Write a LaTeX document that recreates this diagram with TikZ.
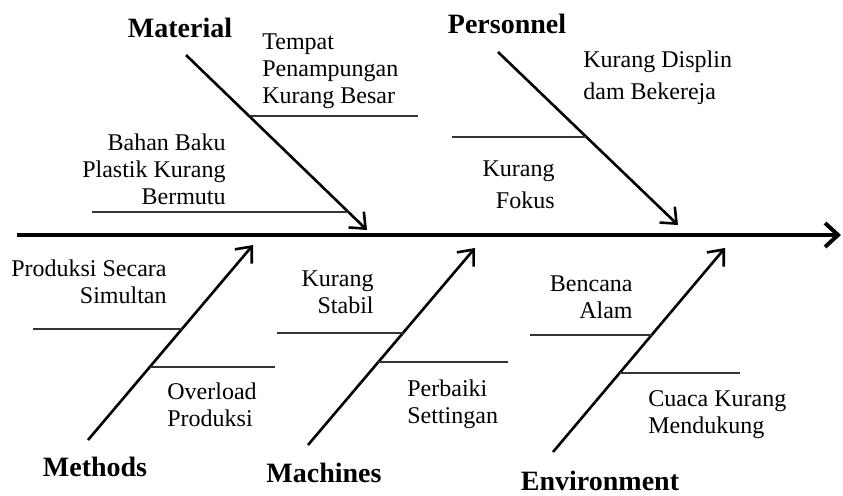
\documentclass[tikz,border=0pt]{standalone}
\usepackage{fontspec}
\setmainfont{Liberation Serif}
\usetikzlibrary{arrows.meta}

\tikzset{
  spine/.style={line width=2pt,-{Straight Barb[length=6.5pt,width=12pt]}},
  bone/.style={line width=1.3pt,-{Straight Barb[length=6.5pt,width=11pt]}},
  twig/.style={line width=1pt,black!80},
  cause/.style={inner sep=0pt,font=\fontsize{12}{13.5}\selectfont},
  catlabel/.style={inner sep=0pt,font=\fontsize{14}{16}\selectfont\bfseries}
}

\begin{document}
\begin{tikzpicture}[x=0.5pt,y=-0.5pt]
  \useasboundingbox (0,0) rectangle (843,495);
  % main spine
  \coordinate (tail) at (17,235);
  \coordinate (head) at (841,235);
  \draw[spine] (tail) -- (head);
  % bones: name/start/end
  \foreach \nm/\sx/\sy/\ex/\ey in {mat/186/55/367/230, per/498/52/678/225,
      met/88/440/253/245, mac/308/445/475/248, env/553/452/725/248} {
    \coordinate (\nm S) at (\sx,\sy);
    \coordinate (\nm E) at (\ex,\ey);
    \draw[bone] (\nm S) -- (\nm E);
  }
  % twigs
  \draw[twig] (250,116) -- (418,116);
  \draw[twig] (92,212) -- (348,212);
  \draw[twig] (452,137) -- (586,137);
  \draw[twig] (33,329) -- (182,329);
  \draw[twig] (150,367) -- (275,367);
  \draw[twig] (277,333) -- (403,333);
  \draw[twig] (378,362) -- (508,362);
  \draw[twig] (530,335) -- (652,335);
  \draw[twig] (620,373) -- (740,373);
  % categories
  \node[catlabel] (material) at (180,28) {Material};
  \node[catlabel] (personnel) at (507,24) {Personnel};
  \node[catlabel] (methods) at (95,467) {Methods};
  \node[catlabel] (machines) at (324,473) {Machines};
  \node[catlabel] (environment) at (600,481) {Environment};
  % causes
  \node[cause,anchor=north west,align=left] (tempat) at (262,33) {Tempat\\Penampungan\\Kurang Besar};
  \node[cause,anchor=north east,align=right] (bahan) at (226,133) {Bahan Baku\\Plastik Kurang\\Bermutu};
  \node[cause,anchor=north west,align=left] (displin) at (583,50) {Kurang Displin\\[2.5pt]dam Bekereja};
  \node[cause,anchor=north east,align=right] (fokus) at (555,160) {Kurang\\[2.5pt]Fokus};
  \node[cause,anchor=north east,align=right] (simultan) at (167,259) {Produksi Secara\\Simultan};
  \node[cause,anchor=north west,align=left] (overload) at (167,382) {Overload\\Produksi};
  \node[cause,anchor=north east,align=right] (stabil) at (374,270) {Kurang\\Stabil};
  \node[cause,anchor=north west,align=left] (settingan) at (407,379) {Perbaiki\\Settingan};
  \node[cause,anchor=north east,align=right] (bencana) at (633,275) {Bencana\\Alam};
  \node[cause,anchor=north west,align=left] (cuaca) at (648,390) {Cuaca Kurang\\Mendukung};
\end{tikzpicture}
\end{document}
